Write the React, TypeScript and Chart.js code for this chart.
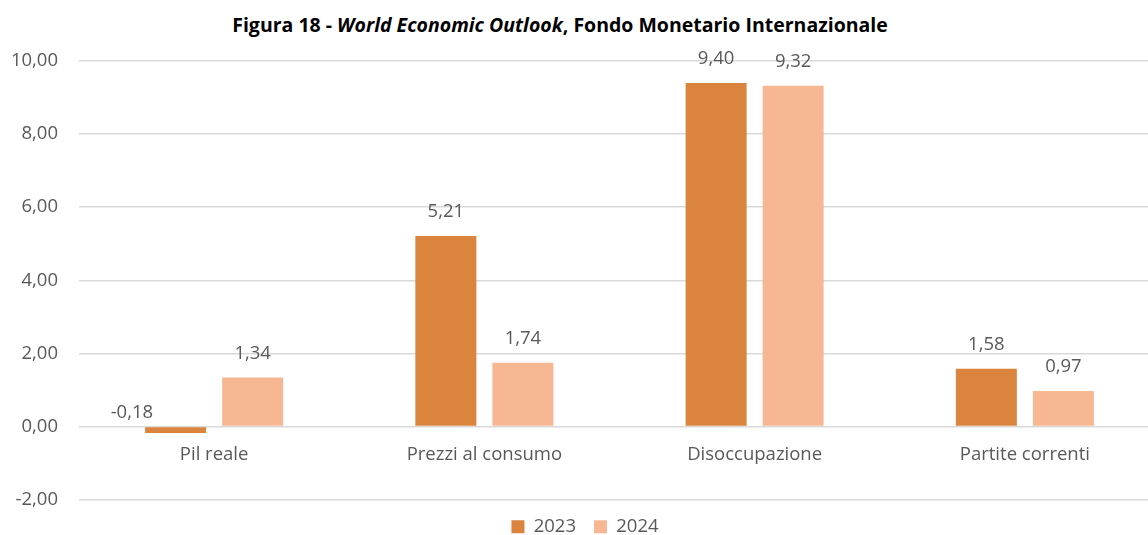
import React, { useEffect, useRef } from "react";
import { Chart, registerables } from "chart.js";

Chart.register(...registerables);

const categories = ["Pil reale", "Prezzi al consumo", "Disoccupazione", "Partite correnti"];
const values2023 = [-0.18, 5.21, 9.4, 1.58];
const values2024 = [1.34, 1.74, 9.32, 0.97];
const seriesNames = ["2023", "2024"];
const colors = ["#DB843E", "#F8B793"];

const FONT = "'Open Sans', 'Noto Sans', sans-serif";
const TEXT = "#595959";
const FS = 18.5;

const fmt = (v: number) => v.toFixed(2).replace(".", ",");

const labelsPlugin = {
  id: "customLabels",
  afterDatasetsDraw(chart: any) {
    const ctx = chart.ctx;
    const y = chart.scales.y;
    const x = chart.scales.x;
    const zero = y.getPixelForValue(0);
    ctx.save();
    ctx.font = `${FS}px ${FONT}`;
    ctx.fillStyle = TEXT;
    ctx.textBaseline = "middle";
    chart.data.datasets.forEach((ds: any, di: number) => {
      const meta = chart.getDatasetMeta(di);
      meta.data.forEach((bar: any, i: number) => {
        const v = ds.data[i];
        if (v >= 0) {
          ctx.textAlign = "center";
          ctx.fillText(fmt(v), bar.x, bar.y - 24);
        } else {
          ctx.textAlign = "right";
          ctx.fillText(fmt(v), bar.x - bar.width / 2 + 8, zero - 14);
        }
      });
    });
    ctx.textAlign = "center";
    categories.forEach((c, i) => {
      ctx.fillText(c, x.getPixelForValue(i), zero + 28);
    });
    ctx.restore();
  },
};

export default function App() {
  const ref = useRef<HTMLCanvasElement>(null);
  useEffect(() => {
    if (!ref.current) return;
    const chart = new Chart(ref.current, {
      type: "bar",
      data: {
        labels: categories,
        datasets: [
          { label: seriesNames[0], data: values2023, backgroundColor: colors[0] },
          { label: seriesNames[1], data: values2024, backgroundColor: colors[1] },
        ],
      },
      options: {
        responsive: false,
        animation: false,
        datasets: { bar: { categoryPercentage: 0.57, barPercentage: 0.792 } },
        layout: { padding: { top: 61, left: 10, right: 20, bottom: 0 } },
        plugins: {
          title: { display: false },
          tooltip: { enabled: false },
          legend: {
            position: "bottom",
            labels: {
              boxWidth: 13,
              boxHeight: 13,
              padding: 18,
              color: TEXT,
              font: { family: FONT, size: FS },
            },
          },
        },
        scales: {
          x: {
            display: false,
            grid: { display: false },
          },
          y: {
            min: -2,
            max: 10,
            ticks: {
              stepSize: 2,
              padding: 21,
              color: TEXT,
              font: { family: FONT, size: FS },
              callback: (v: any) => fmt(Number(v)),
            },
            border: { display: false },
            grid: { color: "#D9D9D9", lineWidth: 1.5, drawTicks: false },
            afterFit: (s: any) => {
              s.width = 69;
            },
          },
        },
      },
      plugins: [labelsPlugin],
    });
    return () => chart.destroy();
  }, []);
  return (
    <div style={{ position: "absolute", left: 0, top: 0, width: 1148, height: 535, overflow: "hidden", background: "#fff" }}>
      <div
        style={{
          position: "absolute",
          left: 0,
          top: 13,
          width: 1120,
          textAlign: "center",
          fontFamily: FONT,
          fontWeight: "bold",
          fontSize: 19.5,
          color: "#000",
          lineHeight: "24px",
        }}
      >
        Figura 18 - <i>World Economic Outlook</i>, Fondo Monetario Internazionale
      </div>
      <canvas ref={ref} width={1180} height={546} style={{ position: "absolute", left: 0, top: 0 }} />
    </div>
  );
}
